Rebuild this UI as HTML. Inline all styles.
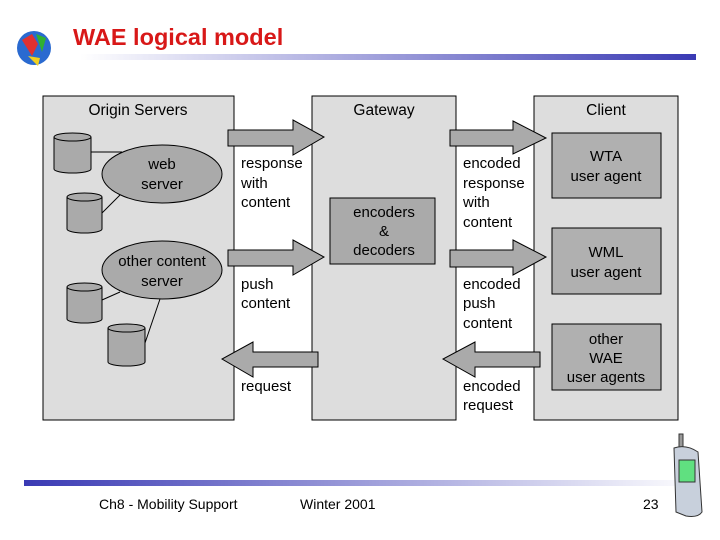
<!DOCTYPE html>
<html><head><style>body{margin:0;background:#fff}svg{display:block}text{font-family:"Liberation Sans",sans-serif}</style></head><body>
<svg width="720" height="540" viewBox="0 0 720 540">
<defs>
<linearGradient id="g1" x1="0" x2="1"><stop offset="0" stop-color="#fff"/><stop offset="1" stop-color="#3a3ab4"/></linearGradient>
<linearGradient id="g2" x1="0" x2="1"><stop offset="0" stop-color="#3a3ab4"/><stop offset="1" stop-color="#fff"/></linearGradient>
</defs>
<circle cx="34" cy="48" r="17" fill="#2a6ad0"/>
<path d="M22 40 l10 -6 6 10 -6 12 z" fill="#e03030"/><path d="M36 34 l10 4 -4 14 z" fill="#30b030"/><path d="M28 56 l12 2 -2 8z" fill="#f0d020"/>
<text x="73" y="45" font-size="23.5" font-weight="bold" fill="#d81818">WAE logical model</text>
<rect x="80" y="54" width="616" height="6" fill="url(#g1)"/>
<rect x="24" y="480" width="676" height="6" fill="url(#g2)"/>
<g fill="#ddd" stroke="#000" stroke-width="1">
<rect x="43" y="96" width="191" height="324"/>
<rect x="312" y="96" width="144" height="324"/>
<rect x="534" y="96" width="144" height="324"/>
</g>
<g font-size="15.5" fill="#000" text-anchor="middle">
<text x="138" y="115">Origin Servers</text><text x="384" y="115">Gateway</text><text x="606" y="115">Client</text>
</g>
<g stroke="#000" fill="none"><line x1="91" y1="152" x2="122" y2="152"/><line x1="102" y1="213" x2="120" y2="195"/><line x1="102" y1="300" x2="120" y2="292"/><line x1="145" y1="343" x2="160" y2="299"/></g>
<g fill="#aaa" stroke="#000">
<ellipse cx="162" cy="174" rx="60" ry="29"/><ellipse cx="162" cy="270" rx="60" ry="29"/>
</g>
<g fill="#aaa" stroke="#000">
<path d="M54 137 v32 a18.5 4 0 0 0 37 0 v-32"/><ellipse cx="72.5" cy="137" rx="18.5" ry="4"/>
<path d="M67 197 v32 a17.5 4 0 0 0 35 0 v-32"/><ellipse cx="84.5" cy="197" rx="17.5" ry="4"/>
<path d="M67 287 v32 a17.5 4 0 0 0 35 0 v-32"/><ellipse cx="84.5" cy="287" rx="17.5" ry="4"/>
<path d="M108 328 v34 a18.5 4 0 0 0 37 0 v-34"/><ellipse cx="126.5" cy="328" rx="18.5" ry="4"/>
</g>
<g font-size="15" fill="#000" text-anchor="middle">
<text x="162" y="169">web</text><text x="162" y="189">server</text>
<text x="162" y="266">other content</text><text x="162" y="286">server</text>
</g>
<g fill="#aaa" stroke="#000">
<path d="M228 130 H293 V120 L324 137 L293 155 V146 H228 Z"/>
<path d="M228 250 H293 V240 L324 257 L293 275 V266 H228 Z"/>
<path d="M318 352 H253 V342 L222 359 L253 377 V367 H318 Z"/>
<path d="M450 130 H513 V121 L546 138 L513 154 V146 H450 Z"/>
<path d="M450 250 H513 V240 L546 257 L513 275 V267 H450 Z"/>
<path d="M540 352 H475 V342 L443 359 L475 377 V367 H540 Z"/>
<rect x="330" y="198" width="105" height="66"/>
<rect x="552" y="133" width="109" height="65" fill="#b0b0b0"/>
<rect x="552" y="228" width="109" height="66" fill="#b0b0b0"/>
<rect x="552" y="324" width="109" height="66" fill="#b0b0b0"/>
</g>
<g font-size="15" fill="#000">
<text x="241" y="168">response</text><text x="241" y="188">with</text><text x="241" y="207">content</text>
<text x="241" y="289">push</text><text x="241" y="308">content</text>
<text x="241" y="391">request</text>
<text x="463" y="168">encoded</text><text x="463" y="188">response</text><text x="463" y="207">with</text><text x="463" y="227">content</text>
<text x="463" y="289">encoded</text><text x="463" y="308">push</text><text x="463" y="328">content</text>
<text x="463" y="391">encoded</text><text x="463" y="410">request</text>
</g>
<g font-size="15" fill="#000" text-anchor="middle">
<text x="384" y="217">encoders</text><text x="384" y="236">&amp;</text><text x="384" y="255">decoders</text>
<text x="606" y="161">WTA</text><text x="606" y="181">user agent</text>
<text x="606" y="257">WML</text><text x="606" y="277">user agent</text>
<text x="606" y="344">other</text><text x="606" y="363">WAE</text><text x="606" y="382">user agents</text>
</g>
<g font-size="14" fill="#000">
<text x="99" y="509">Ch8 - Mobility Support</text><text x="300" y="509">Winter 2001</text><text x="643" y="509">23</text>
</g>
<g stroke="#333" fill="#c8d0dc">
<rect x="679" y="434" width="4" height="14" fill="#999"/>
<path d="M674 448 q12 -4 24 4 l4 60 q-4 6 -16 4 l-10 -4 z"/>
<rect x="679" y="460" width="16" height="22" fill="#60e080"/>
</g>
</svg>
</body></html>
